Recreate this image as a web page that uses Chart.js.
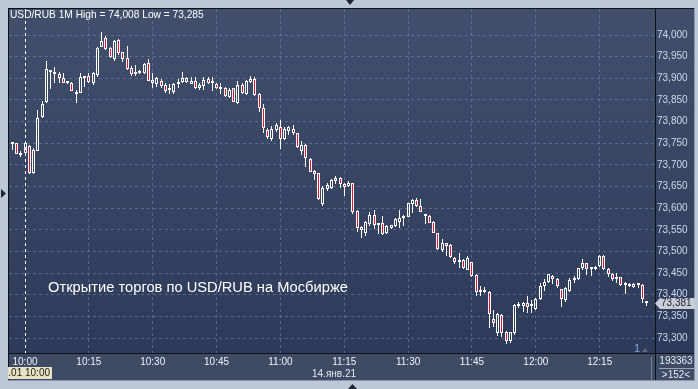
<!DOCTYPE html>
<html><head><meta charset="utf-8">
<script src="https://cdn.jsdelivr.net/npm/chart.js@4.4.1/dist/chart.umd.min.js"></script>
<style>html,body{margin:0;padding:0;background:#bdc8d7;overflow:hidden}canvas{display:block}</style>
</head><body><canvas id="c" width="698" height="389"></canvas>
<script>
// ---- data (1-minute candles, USD/RUB, 14.01.21) ----
const startTime = '09:56';
const opens = [
73.751,73.751,73.750,73.726,73.728,73.744,73.682,73.733,73.811,73.846,
73.918,73.915,73.910,73.900,73.892,73.890,73.869,73.867,73.902,73.905,
73.890,73.908,73.973,73.994,73.971,73.944,73.988,73.960,73.946,73.924,
73.909,73.913,73.912,73.935,73.890,73.887,73.894,73.885,73.874,73.869,
73.886,73.891,73.901,73.887,73.894,73.877,73.883,73.898,73.890,73.887,
73.877,73.877,73.856,73.877,73.842,73.885,73.864,73.892,73.898,73.864,
73.831,73.781,73.760,73.781,73.788,73.760,73.779,73.784,73.773,73.733,
73.746,73.714,73.686,73.681,73.610,73.644,73.646,73.663,73.669,73.656,
73.651,73.657,73.593,73.557,73.543,73.563,73.584,73.564,73.565,73.542,
73.555,73.559,73.569,73.577,73.580,73.609,73.619,73.606,73.586,73.582,
73.569,73.542,73.503,73.519,73.515,73.484,73.475,73.480,73.457,73.475,
73.446,73.407,73.408,73.407,73.343,73.312,73.353,73.314,73.292,73.311,
73.374,73.374,73.380,73.376,73.367,73.390,73.419,73.429,73.444,73.436,
73.413,73.388,73.409,73.433,73.436,73.461,73.473,73.460,73.459,73.467,
73.490,73.459,73.448,73.436,73.440,73.422,73.425,73.417,73.425,73.422,73.386];
const highs = [
73.752,73.751,73.750,73.731,73.753,73.746,73.739,73.827,73.848,73.941,
73.919,73.926,73.914,73.913,73.894,73.892,73.873,73.913,73.904,73.912,
73.915,73.973,74.008,73.998,73.973,73.988,73.991,73.961,73.975,73.928,
73.931,73.918,73.935,73.944,73.912,73.904,73.898,73.888,73.887,73.888,
73.898,73.914,73.904,73.904,73.904,73.888,73.902,73.902,73.904,73.890,
73.888,73.881,73.877,73.878,73.894,73.888,73.896,73.905,73.904,73.865,
73.841,73.785,73.790,73.797,73.804,73.788,73.790,73.792,73.774,73.756,
73.748,73.715,73.688,73.681,73.651,73.657,73.667,73.674,73.671,73.659,
73.663,73.659,73.596,73.559,73.571,73.590,73.596,73.566,73.582,73.561,
73.561,73.577,73.596,73.584,73.613,73.621,73.623,73.621,73.587,73.584,
73.571,73.543,73.528,73.520,73.517,73.488,73.496,73.482,73.489,73.476,
73.447,73.420,73.417,73.409,73.365,73.357,73.355,73.316,73.315,73.378,
73.384,73.384,73.397,73.388,73.392,73.426,73.436,73.449,73.446,73.438,
73.414,73.417,73.438,73.444,73.462,73.482,73.474,73.463,73.466,73.491,
73.491,73.461,73.451,73.450,73.442,73.430,73.427,73.427,73.426,73.424,73.386];
const lows = [
73.745,73.734,73.724,73.719,73.724,73.679,73.679,73.731,73.808,73.842,
73.875,73.890,73.890,73.889,73.887,73.871,73.842,73.865,73.881,73.888,
73.885,73.904,73.972,73.965,73.946,73.941,73.954,73.938,73.919,73.906,
73.906,73.910,73.910,73.893,73.878,73.881,73.877,73.865,73.864,73.864,
73.877,73.888,73.888,73.886,73.875,73.873,73.873,73.887,73.871,73.875,
73.864,73.856,73.854,73.845,73.841,73.864,73.862,73.888,73.859,73.823,
73.774,73.759,73.756,73.777,73.736,73.757,73.769,73.769,73.739,73.723,
73.696,73.683,73.665,73.619,73.605,73.640,73.644,73.656,73.646,73.628,
73.648,73.587,73.546,73.532,73.536,73.559,73.551,73.540,73.538,73.540,
73.551,73.556,73.553,73.559,73.579,73.588,73.603,73.590,73.563,73.565,
73.542,73.503,73.499,73.490,73.484,73.471,73.461,73.460,73.456,73.442,
73.396,73.397,73.403,73.323,73.326,73.305,73.303,73.285,73.288,73.307,
73.370,73.361,73.358,73.358,73.365,73.388,73.409,73.427,73.425,73.416,
73.372,73.383,73.406,73.426,73.434,73.456,73.446,73.443,73.457,73.465,
73.457,73.442,73.432,73.427,73.420,73.402,73.417,73.415,73.415,73.382,73.374];
const closes = [
73.748,73.749,73.725,73.723,73.751,73.682,73.734,73.808,73.841,73.921,
73.915,73.909,73.900,73.890,73.890,73.871,73.864,73.902,73.900,73.892,
73.912,73.969,73.985,73.967,73.950,73.986,73.958,73.944,73.921,73.909,
73.914,73.916,73.932,73.894,73.896,73.900,73.883,73.871,73.872,73.886,
73.892,73.901,73.891,73.894,73.877,73.885,73.896,73.888,73.889,73.877,
73.876,73.858,73.873,73.846,73.885,73.865,73.894,73.898,73.861,73.832,
73.785,73.764,73.783,73.792,73.759,73.784,73.788,73.773,73.741,73.746,
73.715,73.684,73.679,73.620,73.646,73.654,73.665,73.669,73.655,73.650,
73.658,73.592,73.553,73.550,73.569,73.584,73.561,73.562,73.540,73.559,
73.560,73.574,73.577,73.582,73.611,73.619,73.606,73.592,73.583,73.566,
73.543,73.505,73.519,73.513,73.486,73.475,73.480,73.462,73.484,73.444,
73.406,73.406,73.407,73.355,73.335,73.355,73.312,73.294,73.313,73.376,
73.376,73.380,73.372,73.374,73.390,73.420,73.429,73.447,73.436,73.419,
73.390,73.415,73.434,73.435,73.461,73.473,73.459,73.459,73.465,73.490,
73.459,73.447,73.436,73.442,73.423,73.428,73.419,73.425,73.422,73.389,73.381];
const timeLabels = ['10:00','10:15','10:30','10:45','11:00','11:15','11:30','11:45','12:00','12:15'];
const priceTicks = [73.30,73.35,73.40,73.45,73.50,73.55,73.60,73.65,73.70,73.75,73.80,73.85,73.90,73.95,74.00];
const dateLabel = '14.янв.21';
const cursorLabel = '14.01 10:00';
const caption = 'Открытие торгов по USD/RUB на Мосбирже';

// ---- derived ----
function toMin(t){const p=t.split(':').map(Number);return p[0]*60+p[1];}
const base = toMin(timeLabels[0]);
const times = [];
for(let i=0;i<opens.length;i++){const m=toMin(startTime)+i;times.push(String(Math.floor(m/60)).padStart(2,'0')+':'+String(m%60).padStart(2,'0'));}
const xs = times.map(t=>toMin(t)-base);
const tickMinutes = timeLabels.map(t=>toMin(t)-base);
const down = opens.map((o,i)=>closes[i]<o);
const bodyData = xs.map((x,i)=>({x:x,y:[opens[i],closes[i]]}));
const upWick = xs.map((x,i)=>({x:x,y:[Math.max(opens[i],closes[i]),highs[i]]}));
const loWick = xs.map((x,i)=>({x:x,y:[lows[i],Math.min(opens[i],closes[i])]}));
const fmt = v=>v.toFixed(3).replace('.',',');

const GRID='rgba(115,135,170,0.55)';
const FONT='"Liberation Sans", Arial, sans-serif';

// snap bar elements (positioned by the scales) to the pixel grid for crisp candles
const snap = {
  id:'snap',
  beforeDatasetsDraw(chart){
    chart.data.datasets.forEach((ds,di)=>{
      chart.getDatasetMeta(di).data.forEach(el=>{
        el.x = Math.floor(el.x)+0.5;
        el.y = Math.round(el.y);
        el.base = Math.round(el.base);
      });
    });
  }
};

const frame = {
  id:'frame',
  beforeDraw(chart){
    const c=chart.ctx;
    c.save();
    c.fillStyle='#bdc8d7'; c.fillRect(0,0,698,389);
    const g=c.createLinearGradient(0,8,0,354);
    g.addColorStop(0,'#414f6c'); g.addColorStop(1,'#2d3a59');
    c.fillStyle=g; c.fillRect(8,8,687,346);
    c.fillStyle='#3e4b65'; c.fillRect(8,354,687,27);
    c.restore();
  },
  afterDraw(chart){
    const c=chart.ctx, ys=chart.scales.y;
    c.save();
    c.strokeStyle='#0c1018'; c.lineWidth=1;
    c.beginPath();
    c.moveTo(8.5,8); c.lineTo(8.5,381);
    c.moveTo(8,8.5); c.lineTo(695,8.5);
    c.moveTo(655.5,8); c.lineTo(655.5,381);
    c.moveTo(8,353.5); c.lineTo(695,353.5);
    c.stroke();
    c.strokeStyle='#7d879c';
    c.beginPath(); c.moveTo(651.5,357); c.lineTo(651.5,380); c.stroke();
    c.strokeStyle='#9aa4b8';
    c.beginPath(); c.moveTo(659,368.5); c.lineTo(694,368.5); c.stroke();
    c.strokeStyle='#8a96ac';
    c.beginPath(); c.moveTo(694.5,8); c.lineTo(694.5,381); c.moveTo(8,380.5); c.lineTo(695,380.5); c.stroke();

    c.textBaseline='middle';
    const hi=Math.max(...highs), lo=Math.min(...lows);
    c.fillStyle='#ffffff'; c.font='10.2px '+FONT; c.textAlign='left';
    c.fillText('USD/RUB 1M High = '+fmt(hi)+' Low = '+fmt(lo), 10, 15);
    c.font='14.7px '+FONT;
    c.fillText(caption, 48, 288);
    const last=closes[closes.length-1];
    const py=Math.round(ys.getPixelForValue(last))+0.5;
    c.fillStyle='#c9cdd6';
    c.beginPath(); c.moveTo(655,py); c.lineTo(660,py-5.5); c.lineTo(695,py-5.5); c.lineTo(695,py+5.5); c.lineTo(660,py+5.5); c.closePath(); c.fill();
    c.fillStyle='#1a2030'; c.font='10px '+FONT;
    c.fillText(fmt(last), 661, py);
    c.fillStyle='#e6ebf3'; c.textAlign='center';
    c.fillText('193363', 676, 361);
    c.fillText('>152<', 676, 375);
    c.fillText(dateLabel, 334, 374);
    c.fillStyle='#e6e2c3'; c.fillRect(8,367,44,12);
    c.save(); c.beginPath(); c.rect(8,367,44,12); c.clip();
    c.fillStyle='#1a1a1a'; c.textAlign='right'; c.fillText(cursorLabel, 50, 373.5);
    c.restore();
    c.fillStyle='#86a8e0'; c.font='11px '+FONT; c.textAlign='left';
    c.fillText('1', 634, 349);
    c.fillStyle='#5b657c';
    c.beginPath(); c.moveTo(642,352); c.lineTo(645,348); c.lineTo(648,352); c.closePath(); c.fill();
    c.fillStyle='#1e2636';
    c.beginPath(); c.moveTo(346,0); c.lineTo(354,0); c.lineTo(350,5); c.closePath(); c.fill();
    c.beginPath(); c.moveTo(348,389); c.lineTo(357,389); c.lineTo(352.5,384); c.closePath(); c.fill();
    c.beginPath(); c.moveTo(1,189); c.lineTo(1,198); c.lineTo(6,193.5); c.closePath(); c.fill();
    c.restore();
  }
};

const common = {grouped:false, inflateAmount:0, borderSkipped:false};
new Chart(document.getElementById('c'), {
  type:'bar',
  data:{datasets:[
    Object.assign({label:'body', data:bodyData, barThickness:3, minBarLength:2, borderWidth:1,
      borderColor:'#ffffff', backgroundColor:ctx=>down[ctx.dataIndex]?'#e8102c':'rgba(0,0,0,0)'}, common),
    Object.assign({label:'upper wick', data:upWick, barThickness:1, borderWidth:0, backgroundColor:'#ffffff'}, common),
    Object.assign({label:'lower wick', data:loWick, barThickness:1, borderWidth:0, backgroundColor:'#ffffff'}, common)
  ]},
  options:{
    responsive:false, animation:false, events:[],
    layout:{padding:{left:9, top:9, right:4, bottom:8}},
    plugins:{legend:{display:false}, tooltip:{enabled:false}},
    scales:{
      x:{type:'linear', min:-3.7585, max:147.99, offset:false,
        afterBuildTicks:s=>{s.ticks=tickMinutes.map(v=>({value:v}));},
        afterFit:s=>{s.height=28;},
        ticks:{autoSkip:false, maxRotation:0, padding:3, color:'#eef2f8', font:{family:FONT, size:10},
          callback:(v,i)=>timeLabels[i]},
        grid:{offset:false, drawTicks:false, color:ctx=>(ctx.tick&&ctx.tick.value===0)?'#ffffff':GRID},
        border:{display:false, dash:[3,3]}
      },
      y:{position:'right', min:73.26536, max:74.06007,
        afterBuildTicks:s=>{s.ticks=priceTicks.map(v=>({value:v}));},
        afterFit:s=>{s.width=39;},
        ticks:{padding:2, color:'#cdd8ec', font:{family:FONT, size:10}, callback:v=>fmt(v)},
        grid:{drawTicks:false, color:GRID},
        border:{display:false, dash:[3,3]}
      }
    }
  },
  plugins:[snap, frame]
});
</script></body></html>
